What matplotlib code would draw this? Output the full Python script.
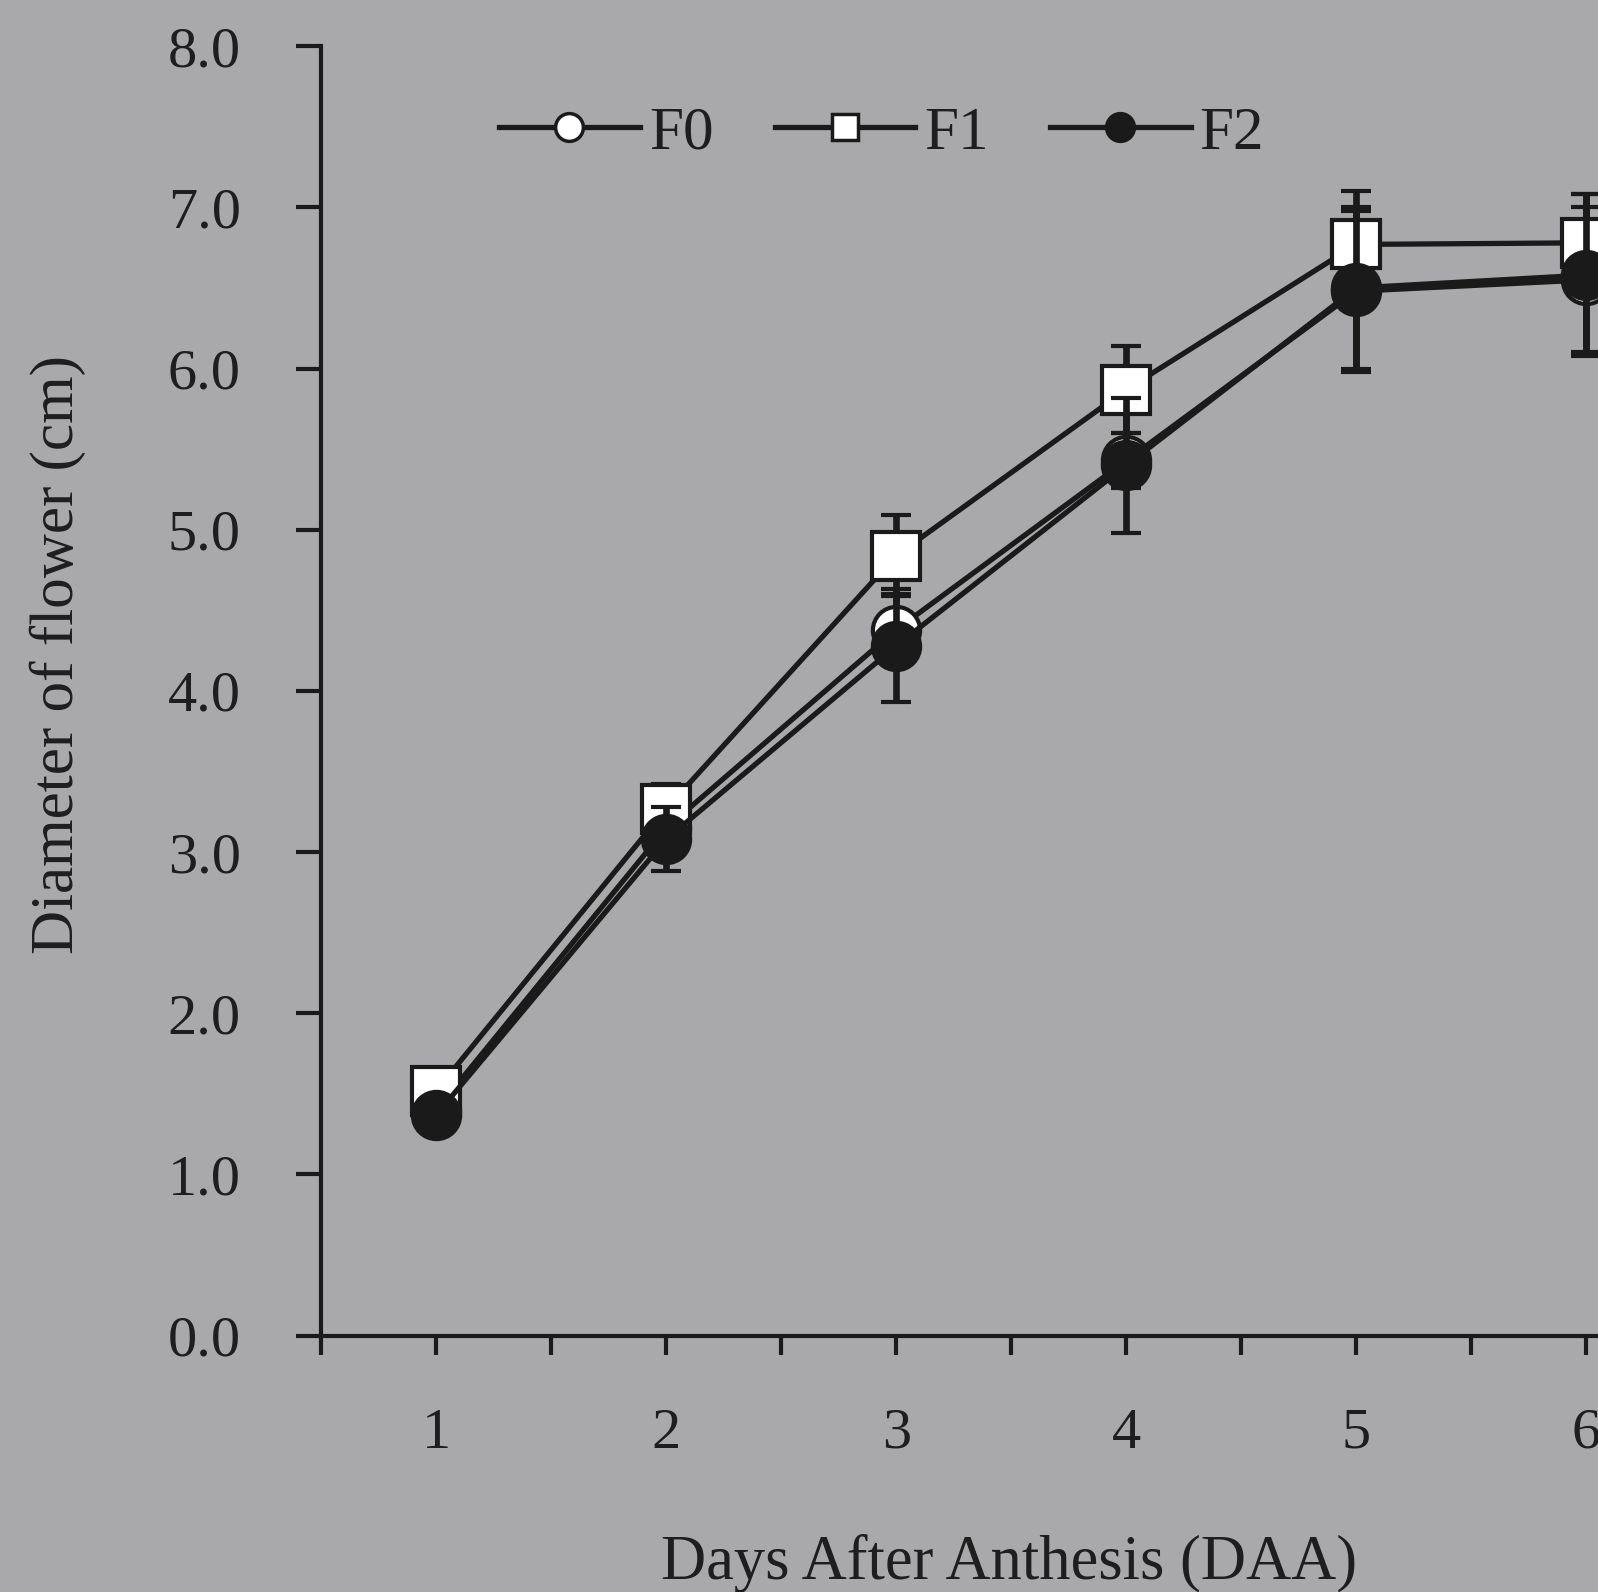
import matplotlib.pyplot as plt
from matplotlib.lines import Line2D
from matplotlib.ticker import MultipleLocator, FixedLocator

# 数据
days = [1, 2, 3, 4, 5, 6]
f0 = [1.40, 3.15, 4.38, 5.43, 6.48, 6.55]
f1 = [1.52, 3.27, 4.84, 5.87, 6.77, 6.78]
f2 = [1.37, 3.08, 4.28, 5.40, 6.50, 6.58]
f0_err = [0.05, 0.18, 0.22, 0.17, 0.50, 0.45]
f1_err = [0.05, 0.15, 0.25, 0.27, 0.33, 0.30]
f2_err = [0.05, 0.20, 0.35, 0.42, 0.50, 0.50]
series_names = ['F0', 'F1', 'F2']

bg = '#a9a9ab'
ink = '#1a1a1a'
txt = '#1e1e1e'

plt.rcParams['font.family'] = ['Liberation Serif', 'DejaVu Serif']

fig = plt.figure(figsize=(15.98, 15.92), dpi=100)
fig.patch.set_facecolor(bg)
ax = fig.add_axes([0.201, 0.161, 0.799, 0.81])
ax.set_facecolor(bg)

common = dict(color=ink, linewidth=3.8, elinewidth=4.8, capsize=11,
              capthick=4.8, markersize=34, markeredgewidth=3,
              markeredgecolor=ink, clip_on=False)

ax.errorbar(days, f0, yerr=f0_err, marker='o', markerfacecolor='white',
            zorder=3, **common)
ax.errorbar(days, f1, yerr=f1_err, marker='s', markerfacecolor='white',
            zorder=4, **common)
ax.errorbar(days, f2, yerr=f2_err, marker='o', markerfacecolor=ink,
            zorder=5, **common)

ax.set_xlim(0.5, 6.05)
ax.set_ylim(0, 8)
ax.yaxis.set_major_locator(MultipleLocator(1.0))
ax.yaxis.set_major_formatter(plt.FormatStrFormatter('%.1f'))
ax.xaxis.set_major_locator(FixedLocator(days))
ax.xaxis.set_minor_locator(MultipleLocator(0.5))

for s in ['top', 'right']:
    ax.spines[s].set_visible(False)
for s in ['left', 'bottom']:
    ax.spines[s].set_linewidth(3)
    ax.spines[s].set_color(ink)

ax.tick_params(axis='y', which='major', direction='out', length=18, width=3,
               color=ink, labelsize=42, labelcolor=txt, pad=40)
ax.tick_params(axis='x', which='both', direction='out', length=14, width=3,
               color=ink, labelsize=42, labelcolor=txt, pad=38)

ax.set_ylabel('Diameter of flower (cm)', fontsize=44, color=txt)
ax.yaxis.set_label_coords(-0.184, 0.528)
ax.set_xlabel('Days After Anthesis (DAA)', fontsize=45, color=txt)
ax.xaxis.set_label_coords(0.539, -0.154)

# 图例 (不带误差线)
handles = [
    Line2D([], [], color=ink, lw=3.8, marker='o', markersize=20,
           markerfacecolor='white', markeredgecolor=ink, markeredgewidth=2.5),
    Line2D([], [], color=ink, lw=3.8, marker='s', markersize=19,
           markerfacecolor='white', markeredgecolor=ink, markeredgewidth=2.5),
    Line2D([], [], color=ink, lw=3.8, marker='o', markersize=20,
           markerfacecolor=ink, markeredgecolor=ink, markeredgewidth=2.5),
]
leg = ax.legend(handles, series_names, loc='center',
                bbox_to_anchor=(0.439, 0.932), ncol=3, frameon=False,
                fontsize=44, handlelength=2.3, columnspacing=1.0,
                handletextpad=0.15)
for t in leg.get_texts():
    t.set_color(txt)

plt.savefig('out.png', dpi=100, facecolor=bg)
plt.close()
